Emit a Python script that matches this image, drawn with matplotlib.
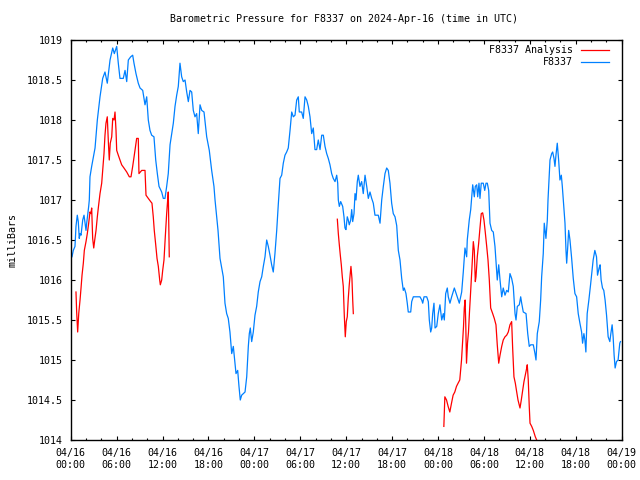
import matplotlib
matplotlib.use("Agg")
import matplotlib.pyplot as plt
from matplotlib.ticker import MultipleLocator, FuncFormatter

# ---- data (hours since 2024-04-16 00:00 UTC, pressure in mb) ----
obs_hours = [0.0, 0.17, 0.34, 0.56, 0.69, 0.86, 0.99, 1.12, 1.22, 1.35, 1.48, 1.57, 1.74, 1.87, 2.0, 2.09,
             2.22, 2.35, 2.43, 2.52, 2.74, 3.18, 3.48, 3.83, 4.18, 4.48, 4.78, 5.14, 5.49, 5.70, 6.01,
             6.22, 6.44, 6.87, 7.10, 7.32, 7.53, 7.84, 8.10, 8.27, 8.53, 8.83, 9.06, 9.41, 9.71, 9.93,
             10.14, 10.36, 10.58, 10.88, 11.11, 11.32, 11.54, 11.89, 12.10, 12.32, 12.54, 12.75, 12.98,
             13.41, 13.63, 13.85, 14.06, 14.28, 14.50, 14.71, 14.94, 15.16, 15.37, 15.59, 15.81, 16.02,
             16.24, 16.46, 16.67, 16.90, 17.12, 17.42, 17.77, 18.11, 18.42, 18.72, 18.86, 19.25, 19.51,
             19.94, 20.16, 20.38, 20.59, 20.81, 21.04, 21.25, 21.38, 21.60, 21.82, 21.99, 22.16, 22.34,
             22.55, 22.78, 23.0, 23.21, 23.34, 23.47, 23.65, 23.86, 24.08, 24.30, 24.51, 24.74, 24.96,
             25.17, 25.39, 25.61, 25.82, 26.04, 26.26, 26.47, 26.69, 26.92, 27.13, 27.35, 27.57, 27.78,
             28.0, 28.22, 28.43, 28.66, 28.88, 29.09, 29.31, 29.53, 29.74, 29.87, 30.18, 30.39, 30.62,
             30.84, 31.05, 31.27, 31.49, 31.70, 31.92, 32.14, 32.35, 32.58, 32.80, 33.01, 33.23, 33.45,
             33.66, 33.88, 34.10, 34.31, 34.54, 34.76, 34.89, 34.97, 35.10, 35.28, 35.54, 35.71, 35.84,
             35.97, 36.14, 36.27, 36.40, 36.59, 36.72, 36.85, 37.02, 37.15, 37.28, 37.45, 37.58, 37.80,
             38.02, 38.23, 38.46, 38.68, 38.89, 39.11, 39.33, 39.54, 39.76, 40.19, 40.42, 40.64, 40.85,
             41.07, 41.29, 41.50, 41.72, 41.94, 42.15, 42.38, 42.60, 42.81, 43.03, 43.25, 43.46, 43.59,
             43.81, 43.98, 44.11, 44.43, 44.56, 44.77, 45.64, 45.87, 46.0, 46.17, 46.52, 46.73, 46.86,
             47.04, 47.17, 47.30, 47.47, 47.61, 47.83, 48.03, 48.25, 48.48, 48.69, 48.82, 49.0, 49.21,
             49.34, 49.56, 49.78, 50.13, 50.44, 50.78, 51.09, 51.30, 51.52, 51.74, 51.82, 52.08, 52.27,
             52.40, 52.53, 52.74, 52.87, 53.05, 53.18, 53.35, 53.48, 53.65, 53.91, 54.10, 54.27, 54.44,
             54.62, 54.79, 55.01, 55.22, 55.44, 55.57, 55.74, 55.93, 56.10, 56.32, 56.52, 56.75, 56.97,
             57.18, 57.40, 57.62, 57.83, 58.06, 58.19, 58.36, 58.62, 58.80, 58.93, 59.14, 59.50, 59.72,
             59.92, 60.11, 60.45, 60.67, 60.80, 60.97, 61.23, 61.41, 61.54, 61.75, 61.88, 62.10, 62.28,
             62.37, 62.50, 62.63, 62.85, 62.98, 63.15, 63.28, 63.41, 63.58, 63.76, 63.93, 64.11, 64.24,
             64.37, 64.59, 64.72, 64.81, 64.94, 65.07, 65.24, 65.46, 65.67, 65.89, 66.11, 66.32, 66.54,
             66.76, 66.89, 67.06, 67.19, 67.32, 67.49, 67.71, 67.93, 68.10, 68.27, 68.49, 68.71, 68.84,
             69.05, 69.18, 69.31, 69.49, 69.66, 69.83, 70.02, 70.23, 70.45, 70.58, 70.75, 70.88, 71.01,
             71.14, 71.32, 71.53, 71.75, 71.84]
obs_values = [1016.27, 1016.29, 1016.37, 1016.42, 1016.67, 1016.81, 1016.73, 1016.52, 1016.58, 1016.56,
              1016.67, 1016.75, 1016.81, 1016.71, 1016.62, 1016.71, 1016.81, 1016.92, 1017.0, 1017.29,
              1017.42, 1017.65, 1018.0, 1018.29, 1018.52, 1018.6, 1018.46, 1018.75, 1018.9, 1018.83,
              1018.92, 1018.71, 1018.52, 1018.52, 1018.62, 1018.48, 1018.75, 1018.79, 1018.81, 1018.71,
              1018.58, 1018.46, 1018.4, 1018.37, 1018.19, 1018.29, 1018.0, 1017.87, 1017.81, 1017.79,
              1017.5, 1017.33, 1017.17, 1017.1, 1017.02, 1017.02, 1017.17, 1017.33, 1017.69, 1017.96,
              1018.17, 1018.31, 1018.42, 1018.71, 1018.54, 1018.48, 1018.5, 1018.35, 1018.23, 1018.37,
              1018.35, 1018.12, 1018.04, 1018.08, 1017.83, 1018.19, 1018.12, 1018.1, 1017.79, 1017.62,
              1017.37, 1017.17, 1017.0, 1016.62, 1016.27, 1016.04, 1015.71, 1015.58, 1015.52, 1015.35,
              1015.08, 1015.17, 1015.04, 1014.83, 1014.87, 1014.67, 1014.5, 1014.56, 1014.58, 1014.6,
              1014.79, 1015.17, 1015.33, 1015.4, 1015.23, 1015.35, 1015.56, 1015.67, 1015.85, 1015.98,
              1016.04, 1016.17, 1016.29, 1016.5, 1016.42, 1016.31, 1016.19, 1016.1, 1016.33, 1016.62,
              1016.95, 1017.27, 1017.31, 1017.46, 1017.56, 1017.6, 1017.65, 1017.87, 1018.1, 1018.04,
              1018.06, 1018.25, 1018.29, 1018.1, 1018.1, 1018.02, 1018.29, 1018.25, 1018.17, 1018.04,
              1017.83, 1017.9, 1017.63, 1017.63, 1017.75, 1017.63, 1017.81, 1017.81, 1017.67, 1017.58,
              1017.52, 1017.44, 1017.33, 1017.27, 1017.23, 1017.31, 1017.21, 1017.0, 1016.92, 1016.98,
              1016.92, 1016.79, 1016.65, 1016.63, 1016.79, 1016.75, 1016.69, 1016.75, 1016.88, 1016.73,
              1016.83, 1017.08, 1017.0, 1017.23, 1017.31, 1017.17, 1017.23, 1017.08, 1017.31, 1017.17,
              1017.02, 1017.1, 1017.02, 1016.96, 1016.81, 1016.81, 1016.71, 1017.0, 1017.17, 1017.33,
              1017.4, 1017.37, 1017.21, 1016.96, 1016.83, 1016.79, 1016.68, 1016.37, 1016.25, 1016.02,
              1015.87, 1015.9, 1015.83, 1015.71, 1015.6, 1015.6, 1015.73, 1015.79, 1015.79, 1015.75,
              1015.71, 1015.79, 1015.79, 1015.73, 1015.5, 1015.35, 1015.4, 1015.58, 1015.71, 1015.4,
              1015.42, 1015.58, 1015.69, 1015.5, 1015.58, 1015.5, 1015.83, 1015.9, 1015.79, 1015.71,
              1015.79, 1015.9, 1015.81, 1015.71, 1015.85, 1016.1, 1016.4, 1016.29, 1016.5, 1016.75,
              1016.88, 1017.04, 1017.19, 1017.04, 1017.17, 1017.19, 1017.04, 1017.21, 1017.02, 1017.21,
              1017.21, 1017.12, 1017.21, 1017.21, 1017.12, 1016.71, 1016.62, 1016.6, 1016.42, 1016.23,
              1016.0, 1016.19, 1016.0, 1015.79, 1015.9, 1015.81, 1015.87, 1015.85, 1016.08, 1016.02,
              1015.92, 1015.58, 1015.5, 1015.67, 1015.69, 1015.79, 1015.71, 1015.6, 1015.58, 1015.33,
              1015.17, 1015.19, 1015.19, 1015.08, 1015.0, 1015.33, 1015.48, 1015.75, 1016.04, 1016.33,
              1016.71, 1016.52, 1016.75, 1017.0, 1017.25, 1017.5, 1017.58, 1017.6, 1017.52, 1017.42,
              1017.56, 1017.71, 1017.5, 1017.25, 1017.31, 1017.17, 1017.0, 1016.71, 1016.37, 1016.21,
              1016.4, 1016.62, 1016.5, 1016.27, 1016.02, 1015.83, 1015.79, 1015.58, 1015.46, 1015.35,
              1015.21, 1015.33, 1015.25, 1015.1, 1015.58, 1015.75, 1015.94, 1016.1, 1016.25, 1016.37,
              1016.29, 1016.06, 1016.15, 1016.19, 1016.0, 1015.9, 1015.87, 1015.75, 1015.56, 1015.29,
              1015.23, 1015.33, 1015.44, 1015.29, 1015.06, 1014.9, 1014.98, 1015.0, 1015.21, 1015.23]

# analysis series: three separate runs (gaps between them)
ana_hours_1 = [0.69, 0.78, 0.91, 1.05, 1.22, 1.35, 1.48, 1.65, 1.78, 2.0, 2.17, 2.35, 2.52, 2.65, 2.74,
               2.87, 3.01, 3.14, 3.31, 3.48, 3.63, 3.83, 4.05, 4.18, 4.35, 4.48, 4.61, 4.78, 4.91, 5.04,
               5.17, 5.36, 5.49, 5.66, 5.79, 5.92, 6.01, 6.22, 6.44, 6.66, 6.96, 7.32, 7.66, 7.88, 8.10,
               8.40, 8.62, 8.83, 8.92, 9.28, 9.71, 9.84, 10.14, 10.45, 10.62, 10.79, 10.92, 11.11, 11.28,
               11.45, 11.63, 11.71, 11.89, 12.02, 12.19, 12.36, 12.54, 12.67, 12.75, 12.88]
ana_values_1 = [1015.85, 1015.6, 1015.35, 1015.58, 1015.75, 1015.9, 1016.06, 1016.21, 1016.37, 1016.48,
                1016.58, 1016.71, 1016.85, 1016.83, 1016.9, 1016.52, 1016.4, 1016.5, 1016.62, 1016.79,
                1016.92, 1017.08, 1017.21, 1017.37, 1017.58, 1017.81, 1017.96, 1018.04, 1017.75, 1017.5,
                1017.71, 1017.79, 1018.02, 1018.0, 1018.1, 1017.87, 1017.62, 1017.56, 1017.5, 1017.44,
                1017.4, 1017.35, 1017.29, 1017.29, 1017.42, 1017.62, 1017.77, 1017.77, 1017.33, 1017.37,
                1017.37, 1017.06, 1017.02, 1016.98, 1016.96, 1016.79, 1016.62, 1016.44, 1016.27, 1016.17,
                1016.0, 1015.94, 1016.0, 1016.12, 1016.25, 1016.54, 1016.83, 1017.0, 1017.1, 1016.29]

ana_hours_2 = [34.84, 34.97, 35.10, 35.23, 35.36, 35.49, 35.62, 35.75, 35.88, 36.01, 36.14, 36.27,
               36.40, 36.53, 36.62, 36.75, 36.85, 36.93]
ana_values_2 = [1016.76, 1016.58, 1016.44, 1016.31, 1016.19, 1016.04, 1015.92, 1015.56, 1015.29, 1015.48,
                1015.54, 1015.77, 1015.94, 1016.08, 1016.17, 1016.02, 1015.75, 1015.58]

ana_hours_3 = [48.76, 48.89, 49.11, 49.32, 49.54, 49.76, 49.97, 50.19, 50.41, 50.62, 50.84, 51.07, 51.20,
               51.33, 51.43, 51.54, 51.63, 51.72, 51.85, 51.98, 52.11, 52.27, 52.44, 52.61, 52.74, 52.87,
               52.96, 53.13, 53.31, 53.48, 53.65, 53.83, 54.0, 54.17, 54.36, 54.53, 54.70, 54.88, 55.14,
               55.35, 55.57, 55.74, 55.93, 56.10, 56.32, 56.52, 56.75, 56.97, 57.18, 57.40, 57.62, 57.75,
               57.92, 58.10, 58.28, 58.45, 58.71, 58.88, 59.06, 59.23, 59.40, 59.59, 59.66, 59.79, 59.92,
               60.02, 60.24, 60.45, 60.71, 60.89, 61.19]
ana_values_3 = [1014.17, 1014.54, 1014.5, 1014.42, 1014.35, 1014.46, 1014.56, 1014.6, 1014.67, 1014.71,
                1014.75, 1015.0, 1015.21, 1015.42, 1015.65, 1015.75, 1015.42, 1014.96, 1015.21, 1015.35,
                1015.6, 1015.87, 1016.17, 1016.48, 1016.37, 1015.98, 1016.04, 1016.29, 1016.46, 1016.65,
                1016.83, 1016.84, 1016.75, 1016.6, 1016.42, 1016.25, 1016.0, 1015.65, 1015.58, 1015.52,
                1015.44, 1015.19, 1014.96, 1015.06, 1015.17, 1015.25, 1015.29, 1015.31, 1015.35, 1015.44,
                1015.48, 1015.15, 1014.79, 1014.71, 1014.6, 1014.5, 1014.4, 1014.5, 1014.62, 1014.73,
                1014.81, 1014.9, 1014.94, 1014.75, 1014.42, 1014.21, 1014.17, 1014.12, 1014.04, 1014.0,
                1013.95]

tick_hours = [0, 6, 12, 18, 24, 30, 36, 42, 48, 54, 60, 66, 72]
tick_labels = ["04/16\n00:00", "04/16\n06:00", "04/16\n12:00", "04/16\n18:00",
               "04/17\n00:00", "04/17\n06:00", "04/17\n12:00", "04/17\n18:00",
               "04/18\n00:00", "04/18\n06:00", "04/18\n12:00", "04/18\n18:00",
               "04/19\n00:00"]

title = "Barometric Pressure for F8337 on 2024-Apr-16 (time in UTC)"
label_analysis = "F8337 Analysis"
label_obs = "F8337"
red = "#ff0000"
blue = "#0080ff"

plt.rcParams['font.family'] = ['DejaVu Sans Mono']
FS = 7.2

fig = plt.figure(figsize=(6.4, 4.8), dpi=100)
ax = fig.add_axes([70.7 / 640, 40 / 480, 551 / 640, 400 / 480])

lw = 0.9
ax.plot(ana_hours_1, ana_values_1, color=red, lw=lw)
ax.plot(ana_hours_2, ana_values_2, color=red, lw=lw)
ax.plot(ana_hours_3, ana_values_3, color=red, lw=lw)
ax.plot(obs_hours, obs_values, color=blue, lw=lw)

ax.set_xlim(0, 72)
ax.set_ylim(1014, 1019)
ax.set_xticks(tick_hours)
ax.set_xticklabels(tick_labels)
ax.xaxis.set_minor_locator(MultipleLocator(2))
ax.yaxis.set_major_locator(MultipleLocator(0.5))
ax.yaxis.set_major_formatter(FuncFormatter(lambda v, p: "%g" % v))

ax.tick_params(axis='both', which='major', direction='in', length=3.2, width=0.8,
               top=True, right=True, labelsize=FS, colors='black')
ax.tick_params(axis='x', which='major', pad=6.0)
ax.tick_params(axis='y', which='major', pad=5.8)
ax.tick_params(axis='x', which='minor', direction='in', length=1.7, width=0.8, top=True)
for s in ax.spines.values():
    s.set_linewidth(1.0)

fig.text(344 / 640, 1 - 19 / 480, title, ha='center', va='center', fontsize=FS)
fig.text(13 / 640, 0.5, "milliBars", rotation=90, ha='center', va='center', fontsize=FS)

# gnuplot-style key: right-aligned labels, sample line to the right
for yk, lab, col in [(0.9758, label_analysis, red), (0.945, label_obs, blue)]:
    ax.text(0.9122, yk, lab, transform=ax.transAxes, ha='right', va='center', fontsize=FS)
    ax.plot([0.926, 0.9775], [yk, yk], transform=ax.transAxes, color=col, lw=lw)

fig.savefig("out.png", dpi=100)
